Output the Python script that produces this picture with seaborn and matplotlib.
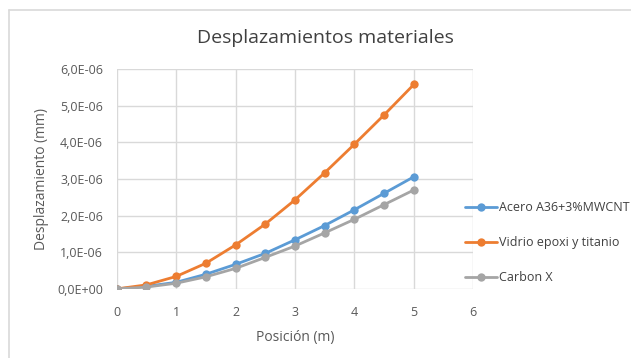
import numpy as np
import pandas as pd
import matplotlib
matplotlib.use("Agg")
import matplotlib.pyplot as plt
from matplotlib.lines import Line2D
import seaborn as sns

# datos
posicion = [0, 0.5, 1, 1.5, 2, 2.5, 3, 3.5, 4, 4.5, 5]
acero = [0, 0.07, 0.18, 0.40, 0.67, 0.97, 1.34, 1.73, 2.16, 2.61, 3.06]
vidrio = [0, 0.11, 0.34, 0.70, 1.20, 1.77, 2.43, 3.17, 3.95, 4.75, 5.58]
carbon = [0, 0.05, 0.155, 0.33, 0.56, 0.86, 1.17, 1.53, 1.90, 2.30, 2.70]
nombres = ["Acero A36+3%MWCNT", "Vidrio epoxi y titanio", "Carbon X"]
colores = ["#5B9BD5", "#ED7D31", "#A5A5A5"]

df = pd.DataFrame({
    "Posicion": posicion * 3,
    "Desplazamiento": np.array(acero + vidrio + carbon) * 1e-6,
    "Material": [n for n in nombres for _ in posicion],
})

sns.set_style("whitegrid")
plt.rcParams["font.family"] = ["Open Sans", "DejaVu Sans"]

fig = plt.figure(figsize=(6.31, 3.58), dpi=100)
ax = fig.add_axes([0.185, 0.193, 0.565, 0.614])

sns.lineplot(data=df, x="Posicion", y="Desplazamiento", hue="Material",
             palette=colores, marker="o", markersize=6, markeredgewidth=0,
             linewidth=2, ax=ax)

ax.set_xlim(0, 6)
ax.set_ylim(0, 6e-6)
ax.set_xticks(range(0, 7))
ax.set_yticks(np.arange(0, 7) * 1e-6)
ax.set_yticklabels(["0,0E+00"] + ["%d,0E-06" % i for i in range(1, 7)])
for s in ax.spines.values():
    s.set_visible(False)
ax.grid(color="#D9D9D9", linewidth=1)
ax.tick_params(colors="#595959", labelsize=9, length=0)
ax.tick_params(axis="x", pad=12)
ax.tick_params(axis="y", pad=10)

ax.set_xlabel("Posición (m)", color="#595959", fontsize=10, labelpad=8)
ax.set_ylabel("Desplazamiento (mm)", color="#595959", fontsize=10, labelpad=6)
fig.suptitle("Desplazamientos materiales", x=0.515, y=0.92, fontsize=14, color="#404040")

leg = ax.legend(loc="center left", bbox_to_anchor=(0.945, 0.21), frameon=False,
                fontsize=9, labelspacing=1.75, handlelength=2.6, handletextpad=0.1)
for t in leg.get_texts():
    t.set_color("#404040")

# borde del recuadro del grafico (solo arriba e izquierda visibles)
fig.add_artist(Line2D([0.015, 1.0], [0.973, 0.973], color="#D9D9D9", linewidth=1.2))
fig.add_artist(Line2D([0.015, 0.015], [0.0, 0.973], color="#D9D9D9", linewidth=1.2))

fig.savefig("out.png", dpi=100)
